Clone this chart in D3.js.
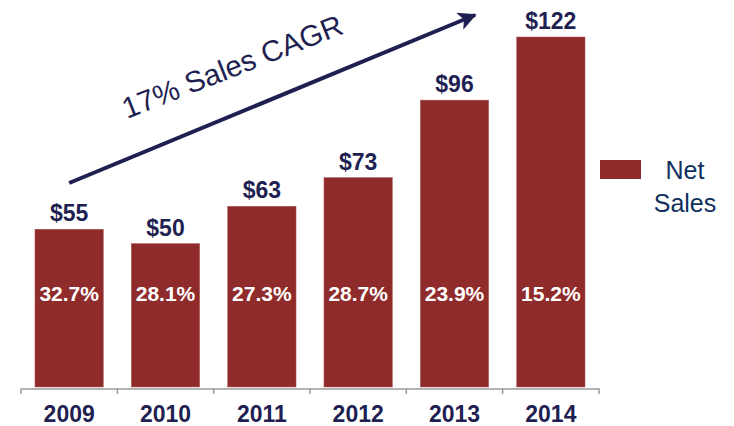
<!DOCTYPE html>
<html lang="en">
<head>
    <meta charset="UTF-8">
    <title>net-sales</title>
    <script src="https://cdn.jsdelivr.net/npm/d3@7"></script>
    <style>
        body { margin: 0; background: #fff; }
    </style>
</head>
<body>
    <svg width="734" height="426" id="mainsvg"></svg>
    <script>
        const years = ['2009', '2010', '2011', '2012', '2013', '2014']
        // bar heights
        const sales = [55, 50, 63, 73, 100, 122]
        const salesLabels = ['$55', '$50', '$63', '$73', '$96', '$122']
        const margins = ['32.7%', '28.1%', '27.3%', '28.7%', '23.9%', '15.2%']

        const svg = d3.select('#mainsvg')
        const barColor = '#8f2b2b'
        const navy = '#1f1f52'
        const font = 'Arial, "Liberation Sans", sans-serif'

        const xScale = d3.scaleBand()
            .domain(years)
            .range([21, 599])
            .paddingInner(0.29)
            .paddingOuter(0.145)
        const yScale = d3.scaleLinear()
            .domain([0, 122])
            .range([387, 37])

        // bars
        svg.selectAll('.bar').data(sales).join('rect')
            .attr('class', 'bar')
            .attr('x', (d, i) => xScale(years[i]))
            .attr('y', d => yScale(d))
            .attr('width', xScale.bandwidth())
            .attr('height', d => yScale(0) - yScale(d))
            .attr('fill', barColor)
            .attr('stroke', '#b06060')
            .attr('stroke-width', 0.5)

        // axis
        const xAxis = d3.axisBottom(xScale).tickSize(0).tickPadding(0)
        const axisG = svg.append('g').attr('transform', `translate(0, ${yScale(0) + 1.5})`).call(xAxis)
        axisG.select('.domain').attr('stroke', '#9a9a9a').attr('stroke-width', 1.5)
        axisG.selectAll('.tick text')
            .attr('y', 33)
            .attr('dy', 0)
            .attr('fill', navy)
            .attr('font-family', font)
            .attr('font-weight', 'bold')
            .attr('font-size', 23)
        // tick marks at band boundaries
        const bounds = years.map(y => xScale(y) - xScale.step() * xScale.paddingInner() / 2)
        bounds.push(599)
        svg.selectAll('.sep').data(bounds).join('line')
            .attr('class', 'sep')
            .attr('x1', d => d).attr('x2', d => d)
            .attr('y1', yScale(0) + 1.5).attr('y2', yScale(0) + 7)
            .attr('stroke', '#9a9a9a').attr('stroke-width', 1.5)

        // value labels
        svg.selectAll('.val').data(sales).join('text')
            .attr('class', 'val')
            .attr('x', (d, i) => xScale(years[i]) + xScale.bandwidth() / 2)
            .attr('y', d => yScale(d) - 8)
            .attr('text-anchor', 'middle')
            .attr('fill', navy)
            .attr('font-family', font)
            .attr('font-weight', 'bold')
            .attr('font-size', 23)
            .text((d, i) => salesLabels[i])

        // margin labels inside bars
        svg.selectAll('.pct').data(margins).join('text')
            .attr('class', 'pct')
            .attr('x', (d, i) => xScale(years[i]) + xScale.bandwidth() / 2)
            .attr('y', 301)
            .attr('text-anchor', 'middle')
            .attr('fill', '#fff')
            .attr('font-family', font)
            .attr('font-weight', 'bold')
            .attr('font-size', 21)
            .text(d => d)

        // CAGR arrow
        svg.append('defs').append('marker')
            .attr('id', 'head')
            .attr('viewBox', '0 0 10 10')
            .attr('refX', 9).attr('refY', 5)
            .attr('markerWidth', 5.5).attr('markerHeight', 4.6)
            .attr('markerUnits', 'strokeWidth')
            .attr('orient', 'auto')
            .append('path')
            .attr('d', 'M0,0 L10,5 L0,10 L2.5,5 Z')
            .attr('fill', navy)
        const x0 = xScale('2009') + xScale.bandwidth() / 2
        svg.append('line')
            .attr('x1', x0).attr('y1', 183)
            .attr('x2', 475).attr('y2', 15)
            .attr('stroke', navy)
            .attr('stroke-width', 4)
            .attr('marker-end', 'url(#head)')

        svg.append('text')
            .attr('transform', 'translate(127, 119) rotate(-21.5)')
            .attr('fill', navy)
            .attr('font-family', font)
            .attr('font-size', 29.5)
            .text('17% Sales CAGR')

        // legend
        svg.append('rect')
            .attr('x', 600).attr('y', 160)
            .attr('width', 41).attr('height', 19)
            .attr('fill', barColor)
        svg.append('text')
            .attr('x', 685).attr('y', 179)
            .attr('text-anchor', 'middle')
            .attr('fill', '#10305e')
            .attr('font-family', font)
            .attr('font-size', 25)
            .selectAll('tspan').data(['Net', 'Sales']).join('tspan')
            .attr('x', 685)
            .attr('dy', (d, i) => i === 0 ? 0 : 33)
            .text(d => d)
    </script>
</body>
</html>
